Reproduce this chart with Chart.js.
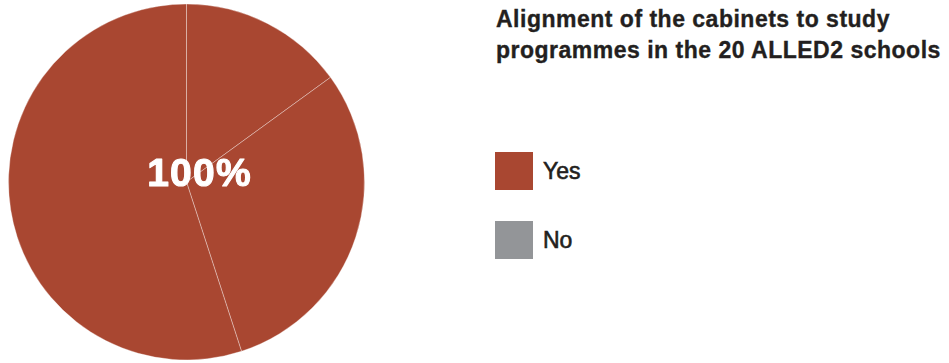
<!DOCTYPE html>
<html>
<head>
<meta charset="utf-8">
<script src="https://cdn.jsdelivr.net/npm/chart.js@4/dist/chart.umd.min.js"></script>
<style>
  html, body { margin: 0; padding: 0; background: #ffffff; }
  body { width: 949px; height: 363px; position: relative; overflow: hidden;
         font-family: "Liberation Sans", Arial, sans-serif; color: #231f20; }
  #pieWrap { position: absolute; left: 0; top: 0; width: 373px; height: 364px; }
  #title { position: absolute; left: 496px; top: 4px; font-size: 23px; font-weight: bold;
           line-height: 31px; letter-spacing: 0.5px; white-space: nowrap;
           -webkit-text-stroke: 0.35px #231f20; }
  .legend-item { position: absolute; left: 495px; height: 38px; }
  .legend-item .swatch { position: absolute; left: 0; top: 0; width: 38px; height: 38px; }
  .legend-item .label { position: absolute; left: 48px; top: 4px; font-size: 23px;
                        line-height: 31px; white-space: nowrap;
                        -webkit-text-stroke: 0.6px #231f20; }
</style>
</head>
<body>
<div id="pieWrap"><canvas id="pie"></canvas></div>
<div id="title">Alignment of the cabinets to study<br>programmes in the 20 ALLED2 schools</div>
<div id="legend"></div>
<script>
// Schools answering "Yes", grouped by study programme cluster
const yesGroups = [3, 6, 11];
// Schools answering "No"
const noCount = 0;
const legendLabels = ['Yes', 'No'];
const legendColors = ['#a94731', '#939598'];

const values = [...yesGroups, noCount];
const sliceColors = [...yesGroups.map(() => legendColors[0]), legendColors[1]];
const total = values.reduce((a, b) => a + b, 0);
const yesShare = Math.round(yesGroups.reduce((a, b) => a + b, 0) / total * 100);

// Share of "Yes" written over the pie
const shareLabel = {
  id: 'shareLabel',
  afterDatasetsDraw(chart) {
    const arc = chart.getDatasetMeta(0).data[0];
    const ctx = chart.ctx;
    ctx.save();
    ctx.fillStyle = '#ffffff';
    ctx.strokeStyle = '#ffffff';
    ctx.lineWidth = 1.1;
    ctx.lineJoin = 'round';
    ctx.font = 'bold 39px "Liberation Sans", Arial, sans-serif';
    ctx.letterSpacing = '1.2px';
    ctx.textAlign = 'center';
    ctx.textBaseline = 'alphabetic';
    const x = arc.x + 13, y = arc.y + 3.5;
    ctx.fillText(yesShare + '%', x, y);
    ctx.strokeText(yesShare + '%', x, y);
    ctx.restore();
  }
};

new Chart(document.getElementById('pie'), {
  type: 'pie',
  data: {
    labels: values.map((_, i) => i < yesGroups.length ? legendLabels[0] : legendLabels[1]),
    datasets: [{
      data: values,
      backgroundColor: sliceColors,
      borderColor: 'rgba(255,255,255,0.38)',
      borderWidth: 0.9
    }]
  },
  options: {
    responsive: true,
    maintainAspectRatio: false,
    animation: false,
    radius: 178,
    layout: { padding: 0 },
    plugins: {
      legend: { display: false },
      tooltip: { enabled: false }
    }
  },
  plugins: [shareLabel]
});

// Legend entries
const legendEl = document.getElementById('legend');
legendLabels.forEach((name, i) => {
  const item = document.createElement('div');
  item.className = 'legend-item';
  item.style.top = (152 + i * 69) + 'px';
  item.innerHTML = '<div class="swatch" style="background:' + legendColors[i] + '"></div>' +
                   '<div class="label">' + name + '</div>';
  legendEl.appendChild(item);
});
</script>
</body>
</html>
